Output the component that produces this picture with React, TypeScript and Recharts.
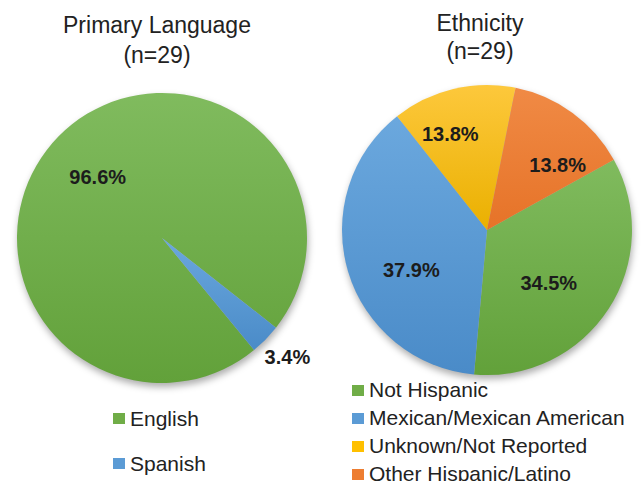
import React from 'react';
import { PieChart, Pie, Cell } from 'recharts';

// counts out of n=29
const languageNames = ['English', 'Spanish'];
const languageCounts = [28, 1];
const ethnicityNames = [
  'Not Hispanic',
  'Mexican/Mexican American',
  'Unknown/Not Reported',
  'Other Hispanic/Latino'
];
const ethnicityCounts = [10, 11, 4, 4];
const sampleSize = 29;

const languageData = languageNames.map((name, i) => ({ name, value: languageCounts[i] }));
const ethnicityData = ethnicityNames.map((name, i) => ({ name, value: ethnicityCounts[i] }));

// base colour, gradient top, gradient bottom
const PALETTE: Record<string, [string, string, string]> = {
  green: ['#70AD47', '#80bb5e', '#62a13a'],
  blue: ['#5B9BD5', '#6ba8de', '#4a8bc8'],
  yellow: ['#FFC000', '#fdc83c', '#eab000'],
  orange: ['#ED7D31', '#f08a45', '#e67328']
};

const SLICE_COLOR: Record<string, string> = {
  English: 'green',
  Spanish: 'blue',
  'Not Hispanic': 'green',
  'Mexican/Mexican American': 'blue',
  'Unknown/Not Reported': 'yellow',
  'Other Hispanic/Latino': 'orange'
};

// Excel's "best fit" label spots: angle nudge (deg) and fraction of radius
const LABEL_SPOT: Record<string, { shift: number; k: number }> = {
  English: { shift: 1, k: 0.61 },
  Spanish: { shift: 1, k: 1.19 },
  'Not Hispanic': { shift: -7.4, k: 0.56 },
  'Mexican/Mexican American': { shift: 11.2, k: 0.59 },
  'Unknown/Not Reported': { shift: 7.4, k: 0.71 },
  'Other Hispanic/Latino': { shift: -11.4, k: 0.66 }
};

const RADIAN = Math.PI / 180;
const FONT = '"Liberation Sans", Arial, Helvetica, sans-serif';

const renderPercent = (props: any) => {
  const { cx, cy, midAngle, outerRadius, percent, name } = props;
  const spot = LABEL_SPOT[name] ?? { shift: 0, k: 0.6 };
  const a = (midAngle + spot.shift) * RADIAN;
  const r = outerRadius * spot.k;
  return (
    <text
      x={cx + r * Math.cos(a)}
      y={cy - r * Math.sin(a)}
      textAnchor="middle"
      dominantBaseline="central"
      fontFamily={FONT}
      fontSize={20}
      fontWeight="bold"
      fill="#1c1c1c"
    >
      {(percent * 100).toFixed(1)}%
    </text>
  );
};

const Title = ({ text, left, top, lineHeight }: any) => (
  <div
    style={{
      position: 'absolute',
      left: left - 120,
      top,
      width: 240,
      textAlign: 'center',
      fontFamily: FONT,
      fontSize: 23,
      lineHeight: `${lineHeight}px`,
      color: '#222'
    }}
  >
    <div>{text}</div>
    <div>(n={sampleSize})</div>
  </div>
);

const LegendList = ({ names, left, top, rowHeight }: any) => (
  <div style={{ position: 'absolute', left, top, fontFamily: FONT, fontSize: 21, color: '#222' }}>
    {names.map((name: string) => (
      <div key={name} style={{ height: rowHeight, display: 'flex', alignItems: 'center', whiteSpace: 'nowrap' }}>
        <span
          style={{
            width: 12,
            height: 11,
            marginRight: 5,
            background: PALETTE[SLICE_COLOR[name]][0],
            display: 'inline-block'
          }}
        />
        {name}
      </div>
    ))}
  </div>
);

export default function App() {
  return (
    <div style={{ position: 'absolute', left: 0, top: 0, width: 641, height: 481, background: '#fff', overflow: 'hidden' }}>
      <PieChart width={641} height={481} margin={{ top: 0, right: 0, bottom: 0, left: 0 }}>
        <defs>
          {Object.keys(PALETTE).map((key) => (
            <linearGradient key={key} id={`grad-${key}`} x1="0" y1="0" x2="0" y2="1">
              <stop offset="0%" stopColor={PALETTE[key][1]} />
              <stop offset="100%" stopColor={PALETTE[key][2]} />
            </linearGradient>
          ))}
          <filter id="pieShadow" x="-20%" y="-20%" width="140%" height="140%">
            <feGaussianBlur stdDeviation="3.5" />
            <feOffset dx="1" dy="4" />
          </filter>
        </defs>

        {/* soft drop shadows under both pies */}
        <Pie
          data={languageData}
          dataKey="value"
          cx={162}
          cy={238}
          outerRadius={145}
          startAngle={-50.6}
          endAngle={-410.6}
          stroke="none"
          isAnimationActive={false}
          legendType="none"
        >
          {languageData.map((d) => (
            <Cell key={d.name} fill="#000" fillOpacity={0.32} filter="url(#pieShadow)" />
          ))}
        </Pie>
        <Pie
          data={ethnicityData}
          dataKey="value"
          cx={487}
          cy={230}
          outerRadius={145}
          startAngle={29}
          endAngle={-331}
          stroke="none"
          isAnimationActive={false}
          legendType="none"
        >
          {ethnicityData.map((d) => (
            <Cell key={d.name} fill="#000" fillOpacity={0.32} filter="url(#pieShadow)" />
          ))}
        </Pie>

        <Pie
          data={languageData}
          dataKey="value"
          nameKey="name"
          cx={162}
          cy={238}
          outerRadius={145}
          startAngle={-50.6}
          endAngle={-410.6}
          stroke="none"
          label={renderPercent}
          labelLine={false}
          isAnimationActive={false}
        >
          {languageData.map((d) => (
            <Cell key={d.name} fill={`url(#grad-${SLICE_COLOR[d.name]})`} />
          ))}
        </Pie>
        <Pie
          data={ethnicityData}
          dataKey="value"
          nameKey="name"
          cx={487}
          cy={230}
          outerRadius={145}
          startAngle={29}
          endAngle={-331}
          stroke="none"
          label={renderPercent}
          labelLine={false}
          isAnimationActive={false}
        >
          {ethnicityData.map((d) => (
            <Cell key={d.name} fill={`url(#grad-${SLICE_COLOR[d.name]})`} />
          ))}
        </Pie>
      </PieChart>

      <Title text="Primary Language" left={157} top={10} lineHeight={30} />
      <Title text="Ethnicity" left={480} top={10} lineHeight={27.5} />

      <LegendList names={languageNames} left={113} top={396} rowHeight={45} />
      <LegendList names={ethnicityNames} left={352} top={376} rowHeight={28} />
    </div>
  );
}
